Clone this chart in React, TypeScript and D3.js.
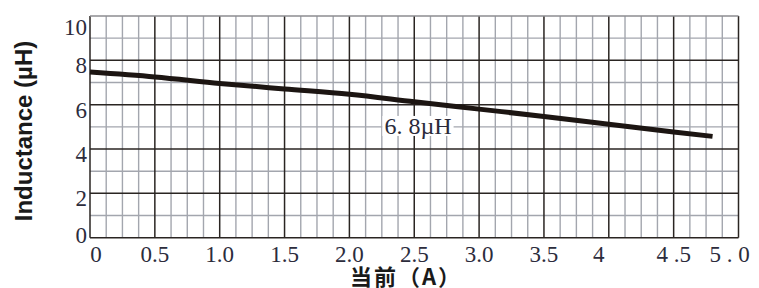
import { useEffect, useRef } from 'react';
import * as d3 from 'd3';

// current (A) vs inductance (µH)
const CURRENT = [0, 0.5, 1.0, 1.5, 2.0, 2.5, 3.0, 3.5, 4.0, 4.5, 4.8];
const INDUCTANCE = [7.47, 7.25, 6.96, 6.71, 6.47, 6.13, 5.8, 5.47, 5.12, 4.77, 4.57];

const X_TICKS = [0, 0.5, 1.0, 1.5, 2.0, 2.5, 3.0, 3.5, 4.0, 4.5, 5.0];
const X_TICK_LABELS = ['0', '0.5', '1.0', '1.5', '2.0', '2.5', '3.0', '3.5', '4', '4 .5', '5 . 0'];
const Y_TICKS = [0, 2, 4, 6, 8, 10];
const Y_TICK_LABELS = ['0', '2', '4', '6', '8', '10'];

const W = 759;
const H = 288;

export default function App() {
  const ref = useRef<SVGSVGElement>(null);

  useEffect(() => {
    if (!ref.current) return;
    const svg = d3.select(ref.current);
    svg.selectAll('*').remove();

    const x = d3.scaleLinear().domain([0, 5]).range([90, 738.5]);
    const y = d3.scaleLinear().domain([0, 10]).range([237.7, 16]);

    svg.append('rect').attr('width', W).attr('height', H).attr('fill', '#fff');

    const g = svg.append('g');

    // minor grid
    const minorX = d3.range(0, 5.0001, 0.125).filter(v => Math.abs(v * 2 - Math.round(v * 2)) > 1e-6);
    const minorY = d3.range(1, 10, 2);
    g.selectAll('line.mx').data(minorX).join('line')
      .attr('x1', d => x(d)).attr('x2', d => x(d))
      .attr('y1', y(0)).attr('y2', y(10))
      .attr('stroke', '#a3a6ae').attr('stroke-width', 1.4);
    g.selectAll('line.my').data(minorY).join('line')
      .attr('x1', x(0)).attr('x2', x(5))
      .attr('y1', d => y(d)).attr('y2', d => y(d))
      .attr('stroke', '#a3a6ae').attr('stroke-width', 1.4);

    // major grid
    g.selectAll('line.MX').data(X_TICKS).join('line')
      .attr('x1', d => x(d)).attr('x2', d => x(d))
      .attr('y1', y(0)).attr('y2', y(10))
      .attr('stroke', '#2a2522').attr('stroke-width', 1.5);
    g.selectAll('line.MY').data(Y_TICKS).join('line')
      .attr('x1', x(0)).attr('x2', x(5))
      .attr('y1', d => y(d)).attr('y2', d => y(d))
      .attr('stroke', d => (d === 10 ? '#8c8c90' : '#2a2522')).attr('stroke-width', 1.5);

    // curve
    const line = d3.line<number>()
      .x((_, i) => x(CURRENT[i]))
      .y(d => y(d))
      .curve(d3.curveMonotoneX);
    g.append('path')
      .datum(INDUCTANCE)
      .attr('fill', 'none')
      .attr('stroke', '#1c1512')
      .attr('stroke-width', 5)
      .attr('d', line);

    // curve label on a white patch
    const serif = '"Liberation Serif", "Times New Roman", serif';
    const lbl = g.append('text')
      .attr('x', x(2.27)).attr('y', y(4.68))
      .attr('font-family', serif)
      .attr('font-size', 24).attr('fill', '#2a2a3a')
      .text('6. 8µH');
    const bb = (lbl.node() as SVGTextElement).getBBox();
    g.insert('rect', 'text')
      .attr('x', bb.x - 2).attr('y', bb.y + 3)
      .attr('width', bb.width + 4).attr('height', bb.height - 6)
      .attr('fill', '#fff');

    // tick labels
    g.selectAll('text.xt').data(X_TICKS).join('text')
      .attr('x', (d, i) => x(d) + (i === 0 ? 6 : i === 8 ? -10 : i === 10 ? -9 : 0))
      .attr('y', 262)
      .attr('text-anchor', 'middle')
      .attr('font-family', serif).attr('font-size', 23).attr('fill', '#2c2c3c')
      .text((_, i) => X_TICK_LABELS[i]);
    g.selectAll('text.yt').data(Y_TICKS).join('text')
      .attr('x', 87)
      .attr('y', d => y(d) + (d === 10 ? 19 : d === 0 ? 5 : 13))
      .attr('text-anchor', 'end')
      .attr('font-family', serif).attr('font-size', 23).attr('fill', '#2c2c3c')
      .text((_, i) => Y_TICK_LABELS[i]);

    // axis titles
    svg.append('text')
      .attr('transform', `translate(32,131) rotate(-90)`)
      .attr('text-anchor', 'middle')
      .attr('font-family', '"Liberation Sans", Arial, sans-serif')
      .attr('font-weight', 'bold').attr('font-size', 24).attr('fill', '#1a1a1a')
      .text('Inductance (µH)');
    svg.append('text')
      .attr('x', 406).attr('y', 285)
      .attr('text-anchor', 'middle')
      .attr('font-family', '"Noto Sans CJK SC", sans-serif')
      .attr('font-weight', 'bold').attr('font-size', 22).attr('letter-spacing', 2)
      .attr('fill', '#1a1a1a')
      .text('当前（A）');
  }, []);

  return (
    <div style={{ position: 'absolute', left: 0, top: 0 }}>
      <svg ref={ref} width={W} height={H} style={{ display: 'block' }} />
    </div>
  );
}
